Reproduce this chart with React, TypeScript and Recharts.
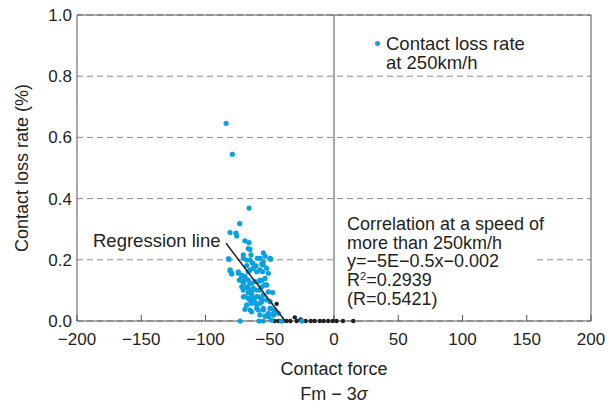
import React from 'react';
import { ScatterChart, Scatter, XAxis, YAxis, CartesianGrid, ReferenceLine, Legend } from 'recharts';

const BLUE = '#0aa0e2';
const INK = '#231f20';
const FONT = '"Liberation Sans", Arial, Helvetica, sans-serif';

// contact loss rate at 250km/h (blue)
const highSpeedPoints = [
  { x: -84, y: 0.646 }, { x: -79.1, y: 0.545 }, { x: -66.1, y: 0.369 }, { x: -73.4, y: 0.318 },
  { x: -80.9, y: 0.289 }, { x: -76.3, y: 0.287 }, { x: -75.7, y: 0.278 },
  { x: -69.3, y: 0.262 }, { x: -66.1, y: 0.256 }, { x: -66.7, y: 0.237 }, { x: -65.4, y: 0.234 },
  { x: -70.6, y: 0.216 }, { x: -64.6, y: 0.216 }, { x: -67.9, y: 0.199 }, { x: -55.0, y: 0.223 },
  { x: -53.7, y: 0.212 }, { x: -59.7, y: 0.205 }, { x: -49.3, y: 0.202 }, { x: -63.3, y: 0.189 },
  { x: -56.3, y: 0.186 }, { x: -81.7, y: 0.202 }, { x: -67.9, y: 0.181 }, { x: -60.7, y: 0.18 },
  { x: -65.4, y: 0.167 }, { x: -52.4, y: 0.172 }, { x: -55.6, y: 0.161 }, { x: -80.9, y: 0.164 },
  { x: -79.6, y: 0.154 }, { x: -51.1, y: 0.156 }, { x: -74.4, y: 0.156 }, { x: -71.8, y: 0.147 },
  { x: -69.3, y: 0.143 }, { x: -66.7, y: 0.134 }, { x: -73.7, y: 0.134 }, { x: -70.6, y: 0.125 },
  { x: -64.1, y: 0.123 }, { x: -58.9, y: 0.128 }, { x: -56.3, y: 0.132 }, { x: -53.7, y: 0.118 },
  { x: -67.9, y: 0.112 }, { x: -62.8, y: 0.107 }, { x: -70.6, y: 0.101 }, { x: -57.6, y: 0.101 },
  { x: -51.1, y: 0.095 }, { x: -47.7, y: 0.093 }, { x: -66.7, y: 0.093 }, { x: -64.1, y: 0.085 },
  { x: -60.2, y: 0.08 }, { x: -56.3, y: 0.071 }, { x: -69.3, y: 0.08 }, { x: -65.4, y: 0.069 },
  { x: -61.5, y: 0.063 }, { x: -67.9, y: 0.052 }, { x: -64.1, y: 0.06 }, { x: -57.6, y: 0.058 },
  { x: -49.8, y: 0.063 }, { x: -49.3, y: 0.041 }, { x: -45.9, y: 0.036 }, { x: -69.3, y: 0.038 },
  { x: -64.1, y: 0.03 }, { x: -60.2, y: 0.041 }, { x: -55.0, y: 0.036 }, { x: -51.1, y: 0.025 },
  { x: -47.1, y: 0.02 }, { x: -43.3, y: 0.025 }, { x: -53.7, y: 0.016 }, { x: -73.0, y: 0 },
  { x: -58.4, y: 0 }, { x: -82.2, y: 0.203 }, { x: -70.5, y: 0.205 }, { x: -65.4, y: 0.199 },
  { x: -57.6, y: 0.205 }, { x: -55.0, y: 0.194 }, { x: -49.8, y: 0.205 }, { x: -80.9, y: 0.167 },
  { x: -79.6, y: 0.156 }, { x: -74.5, y: 0.161 }, { x: -71.8, y: 0.15 }, { x: -69.3, y: 0.145 },
  { x: -66.7, y: 0.161 }, { x: -62.8, y: 0.172 }, { x: -60.2, y: 0.161 }, { x: -57.6, y: 0.167 },
  { x: -55.0, y: 0.183 }, { x: -73.2, y: 0.134 }, { x: -70.5, y: 0.129 }, { x: -65.4, y: 0.123 },
  { x: -61.5, y: 0.129 }, { x: -57.6, y: 0.134 }, { x: -53.7, y: 0.139 }, { x: -71.8, y: 0.112 },
  { x: -66.7, y: 0.107 }, { x: -64.0, y: 0.096 }, { x: -60.2, y: 0.101 }, { x: -56.3, y: 0.112 },
  { x: -52.4, y: 0.118 }, { x: -70.5, y: 0.079 }, { x: -66.7, y: 0.074 }, { x: -62.8, y: 0.074 },
  { x: -58.9, y: 0.079 }, { x: -55.0, y: 0.085 }, { x: -67.9, y: 0.052 }, { x: -64.0, y: 0.058 },
  { x: -60.2, y: 0.052 }, { x: -56.3, y: 0.063 }, { x: -52.4, y: 0.069 }, { x: -65.4, y: 0.036 },
  { x: -58.9, y: 0.036 }, { x: -55.0, y: 0.041 }, { x: -49.8, y: 0.041 }, { x: -47.2, y: 0.025 },
  { x: -57.6, y: 0.02 }, { x: -51.1, y: 0.014 }, { x: -48.5, y: 0.003 }, { x: -55.0, y: 0 },
  { x: -41, y: 0 }, { x: -25, y: 0 },
];

// other points (black)
const lowSpeedPoints = [
  { x: -44.6, y: 0.056 }, { x: -46, y: 0 }, { x: -43, y: 0 }, { x: -40, y: 0 }, { x: -37, y: 0 },
  { x: -34, y: 0 }, { x: -30.5, y: 0.012 }, { x: -29, y: 0 }, { x: -26, y: 0.005 }, { x: -22, y: 0 },
  { x: -18, y: 0 }, { x: -15, y: 0 }, { x: -11, y: 0 }, { x: -8, y: 0 }, { x: -4.5, y: 0 },
  { x: -1, y: 0 }, { x: 2, y: 0 }, { x: 7, y: 0 }, { x: 15, y: 0 },
];

const regressionLine = [{ x: -84, y: 0.254 }, { x: -38, y: 0 }];

const xTicks = [-200, -150, -100, -50, 0, 50, 100, 150, 200];
const yTicks = [0, 0.2, 0.4, 0.6, 0.8, 1.0];

const legendLines = ['Contact loss rate', 'at 250km/h'];
const correlationLines = ['Correlation at a speed of', 'more than 250km/h', 'y=−5E−0.5x−0.002'];
const rSquared = '0.2939';
const rValue = '(R=0.5421)';

const BlueDot = (props: any) => <circle cx={props.cx} cy={props.cy} r={2.6} fill={BLUE} />;
const BlackDot = (props: any) => <circle cx={props.cx} cy={props.cy} r={2.2} fill={INK} />;
const NoDot = () => <g />;

const renderLegend = () => (
  <div style={{ position: 'relative', fontFamily: FONT, fontSize: 18.5, lineHeight: '19px', color: INK }}>
    <span
      style={{ position: 'absolute', left: -11, top: 7, width: 5, height: 5, borderRadius: '50%', background: BLUE }}
    />
    {legendLines.map((l) => (
      <div key={l}>{l}</div>
    ))}
  </div>
);

const XLabel = (props: any) => {
  const { x, y, width } = props.viewBox;
  const cx = x + width / 2;
  return (
    <g fontFamily={FONT} fill={INK} fontSize={18} textAnchor="middle">
      <text x={cx} y={y + 54}>Contact force</text>
      <text x={cx} y={y + 79}>
        Fm − 3<tspan fontStyle="italic">σ</tspan>
      </text>
    </g>
  );
};

const YLabel = (props: any) => {
  const { x, y, height } = props.viewBox;
  const cx = x + 22;
  const cy = y + height / 2;
  return (
    <text
      x={cx}
      y={cy}
      transform={`rotate(-90, ${cx}, ${cy})`}
      textAnchor="middle"
      dominantBaseline="central"
      fontFamily={FONT}
      fontSize={18}
      fill={INK}
    >
      Contact loss rate (%)
    </text>
  );
};

const fmtX = (v: number) => String(v).replace('-', '−');

export default function App() {
  return (
    <div style={{ position: 'absolute', left: 0, top: 0, width: 613, height: 403, background: '#fff' }}>
      <ScatterChart width={613} height={403} margin={{ top: 15, right: 22, bottom: 0, left: 0 }}>
        <CartesianGrid vertical={false} stroke="#8a8a8a" strokeDasharray="6 4" />
        <XAxis
          type="number"
          dataKey="x"
          domain={[-200, 200]}
          ticks={xTicks}
          tickFormatter={fmtX}
          height={82}
          tickSize={-6}
          tickMargin={18}
          stroke="#555"
          tick={{ fill: INK, fontSize: 17, fontFamily: FONT }}
          label={<XLabel />}
        />
        <YAxis
          type="number"
          dataKey="y"
          domain={[0, 1]}
          ticks={yTicks}
          tickFormatter={(v: number) => v.toFixed(1)}
          width={77}
          tickLine={false}
          tickSize={0}
          tickMargin={5}
          stroke="#555"
          tick={{ fill: INK, fontSize: 17, fontFamily: FONT }}
          label={<YLabel />}
        />
        <ReferenceLine y={1} stroke="#555" />
        <ReferenceLine x={200} stroke="#555" />
        <ReferenceLine x={0} stroke="#555" />
        <Scatter data={lowSpeedPoints} shape={BlackDot} isAnimationActive={false} legendType="none" />
        <Scatter
          name="Contact loss rate at 250km/h"
          data={highSpeedPoints}
          shape={BlueDot}
          isAnimationActive={false}
        />
        <Scatter
          data={regressionLine}
          shape={NoDot}
          line={{ stroke: INK, strokeWidth: 1.5 }}
          isAnimationActive={false}
          legendType="none"
        />
        <Legend
          content={renderLegend}
          layout="horizontal"
          verticalAlign="middle"
          align="center"
          wrapperStyle={{ left: 386, top: 34, width: 200, height: 40 }}
        />
      </ScatterChart>

      <div
        style={{
          position: 'absolute', left: 93, top: 230, fontFamily: FONT, fontSize: 18.5,
          lineHeight: '22px', color: INK, whiteSpace: 'nowrap',
        }}
      >
        Regression line
      </div>

      <div
        style={{
          position: 'absolute', left: 337, top: 214, width: 196, padding: '1px 0 2px 10px',
          boxSizing: 'border-box', background: '#fff', fontFamily: FONT, fontSize: 18,
          lineHeight: '18.7px', color: INK, whiteSpace: 'nowrap',
        }}
      >
        {correlationLines.map((l) => (
          <div key={l}>{l}</div>
        ))}
        <div>
          R<span style={{ fontSize: 11, position: 'relative', top: -6, lineHeight: 0 }}>2</span>={rSquared}
        </div>
        <div>{rValue}</div>
      </div>
    </div>
  );
}
